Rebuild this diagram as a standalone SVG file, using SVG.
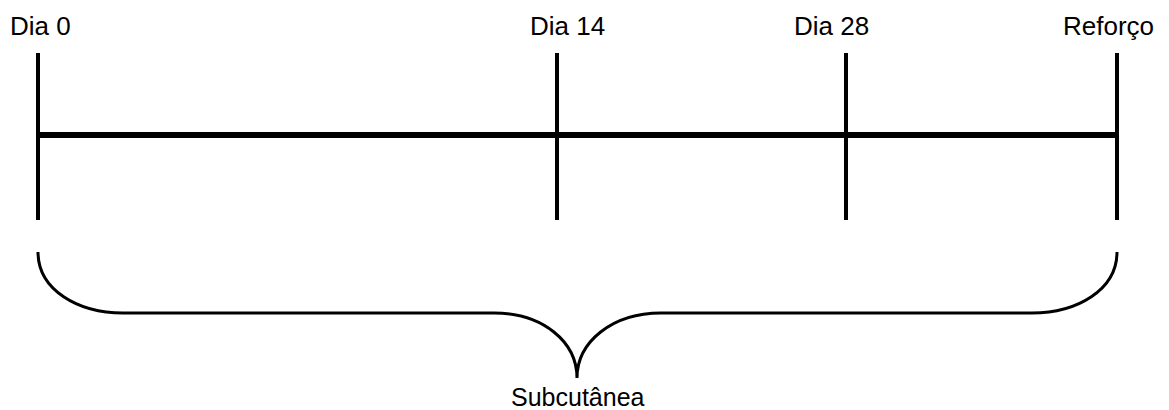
<svg xmlns="http://www.w3.org/2000/svg" width="1169" height="410" viewBox="0 0 1169 410">
<style>
.lbl{font-family:"Liberation Sans",Arial,sans-serif;font-size:26px;fill:#000}
.tick{stroke:#000;stroke-width:4;fill:none}
.axis{stroke:#000;stroke-width:6;fill:none}
.brace{stroke:#000;stroke-width:3;fill:none}
</style>
<rect width="1169" height="410" fill="#fff"/>
<g id="connectors">
<line class="axis" x1="38" y1="135" x2="1117" y2="135"/>
<path class="brace" d="M38,252 C38,290 78,313 123,313 L494,313 C543,313 577,342 577,378 C577,342 612,313 661,313 L1032,313 C1077,313 1117,290 1117,252"/>
</g>
<g id="dia0"><line class="tick" x1="38" y1="53" x2="38" y2="220"/><text class="lbl" x="10" y="35">Dia 0</text></g>
<g id="dia14"><line class="tick" x1="557" y1="53" x2="557" y2="220"/><text class="lbl" x="530" y="35">Dia 14</text></g>
<g id="dia28"><line class="tick" x1="846" y1="53" x2="846" y2="220"/><text class="lbl" x="794" y="35">Dia 28</text></g>
<g id="reforco"><line class="tick" x1="1117" y1="53" x2="1117" y2="220"/><text class="lbl" x="1063" y="35">Reforço</text></g>
<g id="subcutanea"><text class="lbl" x="511" y="406" style="font-size:25px">Subcutânea</text></g>
</svg>
